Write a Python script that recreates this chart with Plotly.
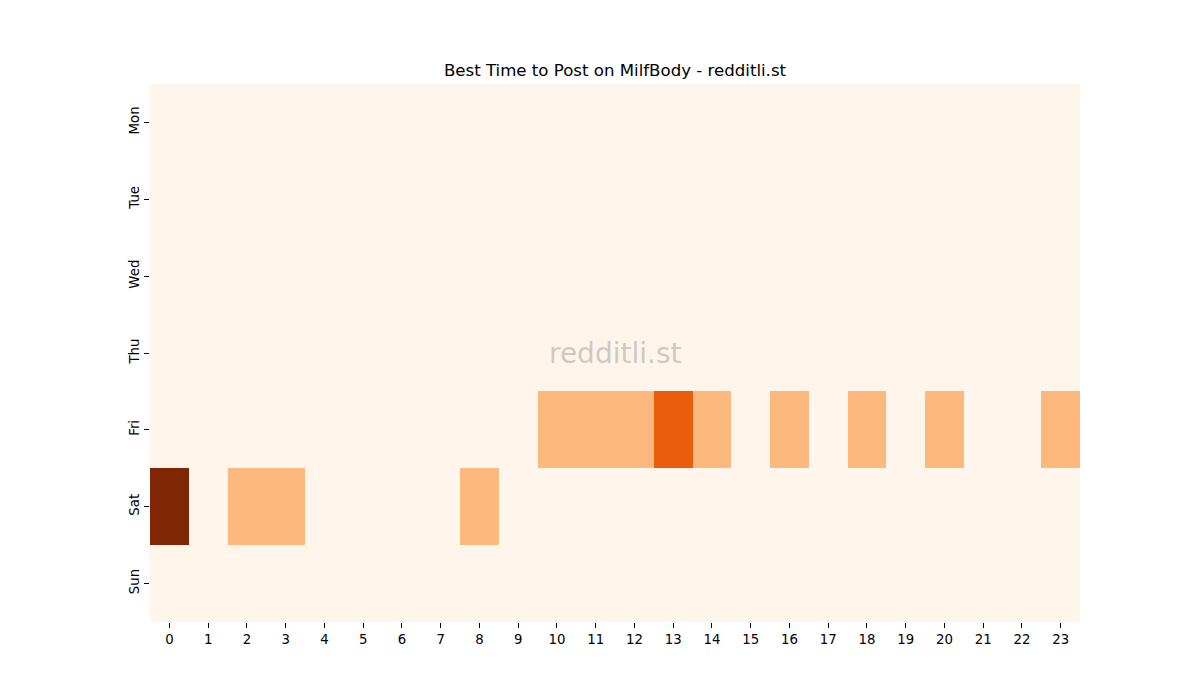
import plotly.graph_objects as go

days = ["Mon", "Tue", "Wed", "Thu", "Fri", "Sat", "Sun"]
hours = list(range(24))

# posts per day/hour (rows Mon..Sun, cols hour 0..23)
mon = [0] * 24
tue = [0] * 24
wed = [0] * 24
thu = [0] * 24
fri = [0, 0, 0, 0, 0, 0, 0, 0, 0, 0, 1, 1, 1, 2, 1, 0, 1, 0, 1, 0, 1, 0, 0, 1]
sat = [3, 0, 1, 1, 0, 0, 0, 0, 1, 0, 0, 0, 0, 0, 0, 0, 0, 0, 0, 0, 0, 0, 0, 0]
sun = [0] * 24
z = [mon, tue, wed, thu, fri, sat, sun]

# matplotlib "Oranges" sampled at 0, 1/3, 2/3, 1
oranges = [
    [0.0, "#fff5eb"],
    [1 / 3, "#fdb97d"],
    [2 / 3, "#e95e0d"],
    [1.0, "#7f2704"],
]

fig = go.Figure(go.Heatmap(
    z=z, x=hours, y=days,
    colorscale=oranges, zmin=0, zmax=3,
    showscale=False, xgap=0, ygap=0,
    hoverinfo="x+y+z"
))

# page body adds ~8px offset, so margins are shifted to compensate
fig.update_layout(
    width=1200, height=700,
    margin=dict(l=142, r=128, t=76, b=86),
    paper_bgcolor="white", plot_bgcolor="white",
    font=dict(family="DejaVu Sans", size=13.3, color="black"),
    title=dict(text="Best Time to Post on MilfBody - redditli.st",
               x=(615 - 8) / 1200, xanchor="center", y=1 - 62 / 700, yanchor="middle",
               font=dict(size=16.6, color="black")),
    xaxis=dict(tickmode="array", tickvals=hours, ticktext=[str(h) for h in hours],
               ticks="outside", ticklen=5, tickcolor="black", showgrid=False,
               zeroline=False, showline=False, range=[-0.5, 23.5]),
    yaxis=dict(autorange="reversed", ticks="outside", ticklen=5, tickcolor="black",
               tickangle=-90, showgrid=False, zeroline=False, showline=False),
)

fig.add_annotation(
    xref="paper", yref="paper", x=0.5, y=0.5,
    text="redditli.st", showarrow=False,
    font=dict(size=28, color="rgba(128,128,128,0.4)")
)

fig.write_html("out.html")
